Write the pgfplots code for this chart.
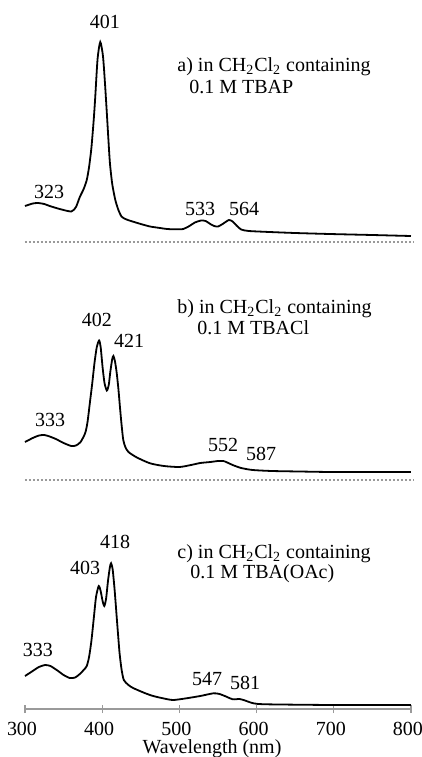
\documentclass[border=0pt]{standalone}
\usepackage{fontspec}
\setmainfont{Liberation Serif}
\usepackage{pgfplots}
\pgfplotsset{compat=1.18}
\definecolor{axisgray}{HTML}{9A9A9A}

\pgfplotsset{
  spec/.style={width=193pt, height=105pt, scale only axis,
    xmin=300, xmax=800, ymin=0, ymax=210, clip=false, anchor=south west},
  curve/.style={black, line width=0.9pt, smooth, tension=0.4, no markers},
  base/.style={axisgray, line width=0.7pt, dash pattern=on 1pt off 1pt, no markers},
}

% spectra, y in picture units above each baseline
\pgfplotstableread{
nm  A
300 36
310 38.5
317 39
325 38
332 36
345 33
360 30.5
366 35
371 45
376 53
380 62
383 75
386 94
389 122
391 145
394 183
397.5 200
401 186
403.5 160
406 129
408 103
410 79
413 58
417 42
421 32
425 25.5
430 23
436 21.3
450 18
462 15.5
475 14
484 13
495 12.7
505 13
513 16
520 19.5
528 21.5
534 21
540 18
545 16
550 15.5
556 18
564 22
569 20.5
574 16.5
580 12.5
590 11
617 10
650 9
695 8
750 7
800 6
}\specA

\pgfplotstableread{
nm  A
300 38
310 42
318 44.5
325 45
332 43.5
340 41
350 37
360 34
366 34.5
372 38
378 47
381 58
384 77
387 96
390 117
393 133
396 139.5
398 133
400.6 112
403 97
406 89.5
408.5 95
410.5 108
413 121
414.5 124
416.5 119
418.8 107
421 91
423 73
425 56
427.3 40
430 33
434 28
445 22.5
462 16.7
480 14
500 13
515 15
527 17
540 18
550 19
557 19
562 17.5
569 15
580 12
595 10
620 9
656 8.5
700 8
800 8
}\specB

\pgfplotstableread{
nm  A
300 33
310 38
318 42
326 44
333 43
342 38.5
350 34
358 31
365 31.5
371 35
376 39
380 43
383 52
386 68
389 90
392 112
395.5 123
398 118
400.5 108
402.7 103
405 110
407.5 128
410 142
411.5 145.7
413.5 140
416 120
418.5 95
420.5 75
422.5 56
425 40
428 29
434 24
440 21
455 16
466 13
480 10.5
492 9
509 10.7
527 13
544 15.7
552 15
561 12.3
569 9.7
578 10
585 8.5
596 5.7
613 4.7
700 4
800 4
}\specC

\begin{document}
\begin{tikzpicture}[x=0.5pt, y=-0.5pt, font=\fontsize{10}{12}\selectfont]

% a) TBAP
\begin{axis}[spec, at={(12.5pt,-121pt)}, hide axis]
\addplot[base] coordinates {(300,0) (803,0)};
\addplot[curve] table[x=nm, y=A] {\specA};
\end{axis}

% b) TBACl
\begin{axis}[spec, at={(12.5pt,-240pt)}, hide axis]
\addplot[base] coordinates {(300,0) (803,0)};
\addplot[curve] table[x=nm, y=A] {\specB};
\end{axis}

% c) TBA(OAc)
\begin{axis}[spec, at={(12.5pt,-354.5pt)},
  axis x line=bottom, axis y line=none, ytick=\empty,
  axis line style={axisgray, line width=0.7pt, -},
  xtick={300,400,...,800}, xtick align=center,
  major tick length=4pt, tick style={axisgray, line width=0.6pt},
  xticklabel style={black, yshift=-1pt, xshift=-1.5pt},
  /pgf/number format/assume math mode=true,
  /pgf/number format/1000 sep={}]
\addplot[curve] table[x=nm, y=A] {\specC};
\end{axis}

% peak labels and captions
\node at (105,22) {401};
\node at (49,192) {323};
\node at (200,209) {533};
\node at (244,209) {564};
\node[anchor=base west, inner sep=0pt] at (177,71) {a) in CH\textsubscript{2}Cl\textsubscript{2} containing};
\node[anchor=base west, inner sep=0pt] at (189,93) {0.1 M TBAP};

\node at (97,320) {402};
\node at (129,341) {421};
\node at (50,420) {333};
\node at (223,445) {552};
\node at (261,454) {587};
\node[anchor=base west, inner sep=0pt] at (177,313) {b) in CH\textsubscript{2}Cl\textsubscript{2} containing};
\node[anchor=base west, inner sep=0pt] at (197,334) {0.1 M TBACl};

\node at (115,542) {418};
\node at (85,568) {403};
\node at (38,650) {333};
\node at (207,679) {547};
\node at (245,683) {581};
\node[anchor=base west, inner sep=0pt] at (177,558) {c) in CH\textsubscript{2}Cl\textsubscript{2} containing};
\node[anchor=base west, inner sep=0pt] at (190,578) {0.1 M TBA(OAc)};

\node[anchor=base, inner sep=0pt] at (212,753) {Wavelength (nm)};

\pgfresetboundingbox
\useasboundingbox (0,0) rectangle (422,757);
\end{tikzpicture}%
\end{document}
